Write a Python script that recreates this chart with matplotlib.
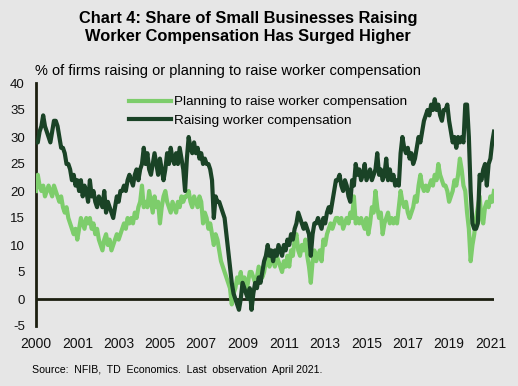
import matplotlib.pyplot as plt

plt.rcParams['font.family'] = ['Liberation Sans', 'DejaVu Sans']
plt.rcParams['axes.unicode_minus'] = False

# monthly NFIB compensation series, Jan 2000 - Apr 2021 (% of firms)
raising = [
    29, 29, 31, 32, 34, 32, 31, 30, 29, 31, 33, 33,   # 2000
    32, 30, 28, 28, 27, 25, 25, 24, 22, 23, 21, 22,   # 2001
    20, 22, 19, 21, 20, 18, 22, 19, 20, 18, 17, 19,   # 2002
    18, 17, 20, 16, 18, 17, 16, 15, 17, 19, 18, 20,   # 2003
    20, 21, 20, 22, 23, 22, 21, 23, 24, 22, 24, 25,   # 2004
    28, 25, 27, 24, 23, 25, 27, 25, 23, 26, 24, 22,   # 2005
    24, 27, 25, 28, 26, 25, 27, 25, 28, 26, 24, 20,   # 2006
    26, 30, 28, 27, 29, 27, 28, 26, 27, 25, 26, 25,   # 2007
    25, 24, 22, 15, 19, 18, 18, 17, 16, 15, 12, 9,    # 2008
    6, 3, 1, 0, -1, -2, 0, 3, 2, 1, 0, 2,             # 2009
    -2, 1, 3, 2, 4, 3, 5, 7, 8, 10, 8, 9,             # 2010
    7, 9, 8, 10, 9, 8, 10, 9, 11, 10, 12, 11,         # 2011
    13, 14, 16, 15, 14, 13, 14, 13, 12, 8, 12, 14,    # 2012
    14, 15, 14, 13, 15, 14, 16, 17, 16, 18, 20, 22,   # 2013
    22, 23, 21, 20, 22, 21, 19, 18, 22, 21, 25, 23,   # 2014
    24, 22, 23, 25, 22, 23, 24, 22, 23, 24, 27, 23,   # 2015
    24, 22, 23, 26, 22, 24, 22, 23, 21, 22, 21, 27,   # 2016
    30, 28, 27, 28, 26, 27, 25, 26, 28, 30, 29, 31,   # 2017
    33, 34, 35, 34, 36, 35, 37, 35, 36, 34, 33, 35,   # 2018
    35, 36, 33, 31, 29, 30, 28, 30, 29, 30, 29, 36,   # 2019
    36, 30, 20, 14, 13, 13, 14, 23, 22, 24, 25, 21,   # 2020
    25, 26, 29, 31,                                   # 2021
]

planning = [
    20, 23, 21, 20, 21, 19, 20, 21, 20, 19, 21, 20,   # 2000
    19, 18, 19, 17, 16, 17, 15, 14, 13, 12, 13, 11,   # 2001
    13, 15, 14, 13, 15, 14, 15, 13, 14, 12, 13, 11,   # 2002
    10, 9, 11, 12, 10, 11, 9, 10, 11, 12, 11, 12,     # 2003
    13, 14, 13, 15, 14, 15, 14, 16, 15, 17, 18, 21,   # 2004
    17, 18, 17, 20, 18, 16, 19, 17, 18, 14, 17, 19,   # 2005
    20, 18, 17, 16, 18, 17, 16, 18, 17, 19, 18, 19,   # 2006
    19, 20, 18, 17, 19, 18, 17, 19, 18, 14, 16, 15,   # 2007
    13, 14, 12, 10, 12, 11, 9, 7, 6, 5, 4, 3,         # 2008
    2, -1, 1, 2, 4, 3, 5, 2, 4, 1, 3, 5,              # 2009
    5, 4, 3, 4, 6, 5, 4, 5, 7, 8, 6, 8,               # 2010
    7, 6, 8, 7, 6, 5, 7, 6, 8, 6, 9, 8,               # 2011
    11, 12, 9, 8, 10, 9, 11, 8, 6, 3, 7, 9,           # 2012
    7, 8, 9, 7, 11, 10, 12, 13, 14, 13, 14, 15,       # 2013
    15, 14, 15, 13, 14, 15, 14, 16, 15, 19, 14, 15,   # 2014
    14, 15, 14, 13, 15, 12, 14, 17, 16, 20, 17, 15,   # 2015
    16, 12, 14, 15, 16, 14, 15, 14, 15, 14, 17, 20,   # 2016
    18, 17, 18, 16, 15, 16, 17, 19, 18, 21, 23, 21,   # 2017
    20, 21, 20, 21, 22, 21, 23, 22, 25, 23, 22, 21,   # 2018
    21, 20, 18, 19, 20, 22, 21, 23, 26, 24, 21, 20,   # 2019
    16, 13, 7, 10, 12, 15, 17, 19, 15, 14, 17, 18,    # 2020
    17, 19, 18, 20,                                   # 2021
]

# category axis labelled every 23 months, as in the original
tick_pos = list(range(0, 256, 23))
tick_labels = ['2000', '2001', '2003', '2005', '2007', '2009',
               '2011', '2013', '2015', '2017', '2019', '2021']

bg = '#e6e6e6'
light = '#7dcd6b'
dark = '#1a4326'

fig = plt.figure(figsize=(5.18, 3.86), dpi=100, facecolor=bg)
ax = fig.add_axes([36 / 518, 60 / 386, 458 / 518, 243 / 386])
ax.set_facecolor(bg)

x = list(range(len(raising)))
ax.plot(x, planning, color=light, lw=3, label='Planning to raise worker compensation',
        solid_joinstyle='round', zorder=3)
ax.plot(x, raising, color=dark, lw=3, label='Raising worker compensation',
        solid_joinstyle='round', zorder=4)
ax.axhline(0, color='#1c1f10', lw=2, zorder=2)

ax.set_xlim(0, 255)
ax.set_ylim(-5, 40)
ax.set_yticks(range(-5, 41, 5))
ax.set_xticks(tick_pos)
ax.set_xticklabels(tick_labels)
ax.tick_params(axis='y', length=0, pad=8, labelsize=9.5, colors='#111111')
ax.tick_params(axis='x', length=0, pad=8, labelsize=10, colors='#111111')

for s in ['top', 'right', 'bottom']:
    ax.spines[s].set_visible(False)
ax.spines['left'].set_color('#1c1f10')
ax.spines['left'].set_linewidth(2)

ax.legend(loc='upper left', bbox_to_anchor=(93 / 458, 1 - 13 / 243), frameon=False,
          fontsize=9.7, handlelength=3.1, handletextpad=0.25, labelspacing=0.45,
          borderpad=0, borderaxespad=0)

fig.text(248 / 518, 1 - 18 / 386, 'Chart 4: Share of Small Businesses Raising',
         ha='center', va='center', fontsize=11.8, fontweight='bold')
fig.text(248 / 518, 1 - 37 / 386, 'Worker Compensation Has Surged Higher',
         ha='center', va='center', fontsize=11.8, fontweight='bold')
fig.text(35 / 518, 1 - 71 / 386, '% of firms raising or planning to raise worker compensation',
         ha='left', va='center', fontsize=10.5)
fig.text(32 / 518, 1 - 370 / 386,
         'Source:  NFIB,  TD  Economics.  Last  observation  April 2021.',
         ha='left', va='center', fontsize=7.6)

fig.savefig('out.png', dpi=100, facecolor=bg)
